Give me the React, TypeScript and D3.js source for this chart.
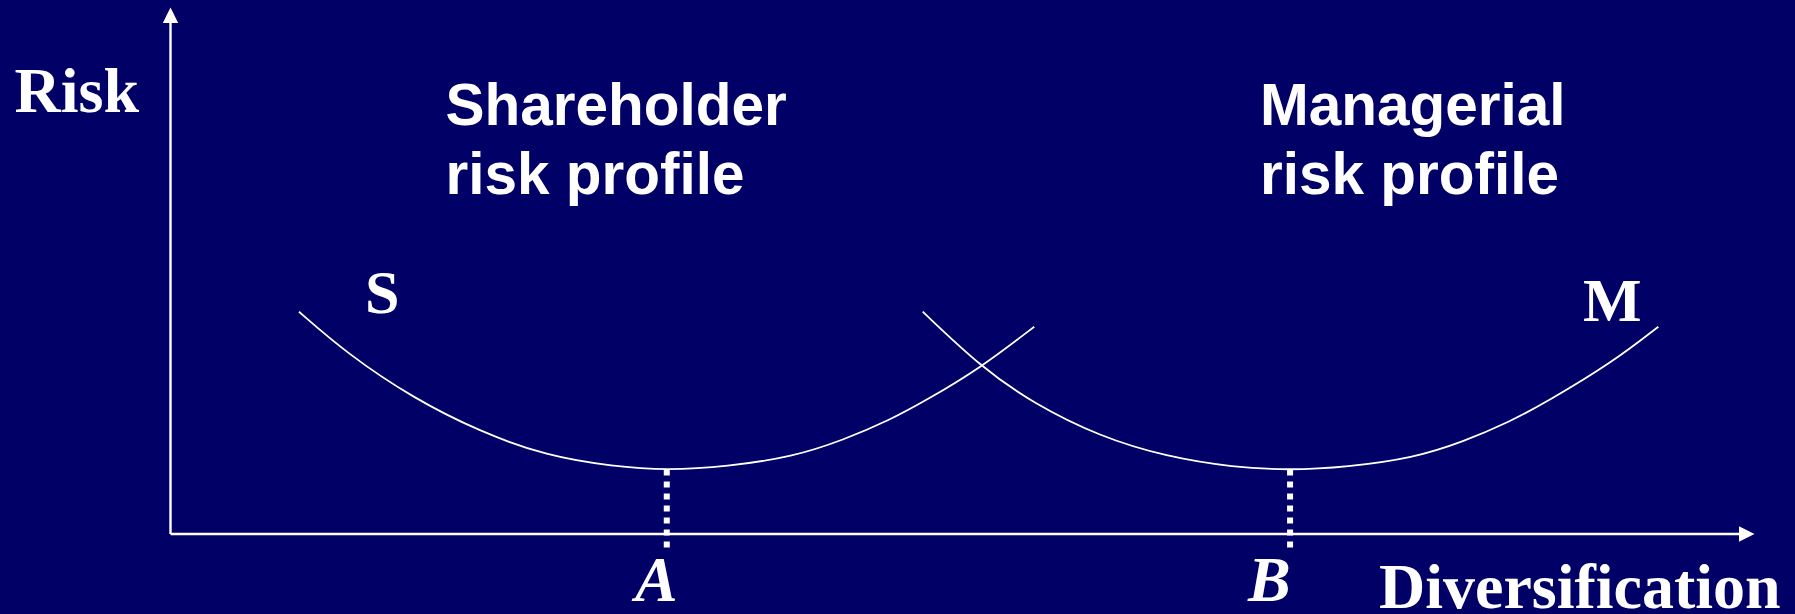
import React from "react";
import * as d3 from "d3";

// Data (units: diversification 0-100 along x axis, risk 0-100 along y axis)
const shareholderCurve: [number, number][] = [
  [8.11, 42.22],
  [11.12, 34.32],
  [15.33, 25.77],
  [19.54, 19.43],
  [23.75, 14.81],
  [27.95, 12.82],
  [31.33, 12.1],
  [35.11, 12.78],
  [39.32, 14.68],
  [42.47, 17.85],
  [45.42, 21.65],
  [47.74, 25.45],
  [51.1, 31.47],
  [54.53, 39.37],
];

const managerialCurve: [number, number][] = [
  [47.49, 42.22],
  [51.21, 31.59],
  [54.47, 24.82],
  [58.68, 18.48],
  [62.89, 14.68],
  [67.1, 12.67],
  [70.68, 12.1],
  [74.26, 12.73],
  [78.46, 14.43],
  [81.62, 17.53],
  [84.56, 21.33],
  [86.88, 25.07],
  [91.09, 32.73],
  [93.93, 39.37],
];

const optimumLabels = ["A", "B"];
const optimumX = [31.33, 70.68];
const optimumRisk = [12.1, 12.1];

const curveLabels = ["S", "M"];
const profileTitles = [
  ["Shareholder", "risk profile"],
  ["Managerial", "risk profile"],
];
const yAxisTitle = "Risk";
const xAxisTitle = "Diversification";

const W = 1795;
const H = 614;
const BG = "#000066";
const FG = "#ffffff";

export default function App() {
  const x = d3.scaleLinear().domain([0, 100]).range([170.5, 1754.5]);
  const y = d3.scaleLinear().domain([0, 100]).range([534, 7.5]);

  const line = d3
    .line<[number, number]>()
    .x((d) => x(d[0]))
    .y((d) => y(d[1]))
    .curve(d3.curveBasis);

  const x0 = x(0);
  const y0 = y(0);
  const xEnd = x(100);
  const yEnd = y(100);
  const ah = 15.5; // arrow length
  const aw = 7.7; // arrow half width

  const serif = "'Liberation Serif', 'Times New Roman', serif";
  const sans = "'Liberation Sans', Arial, sans-serif";

  const dashBottom = y(-2.8);
  const labelX = [635, 1248];

  return (
    <svg
      width={W}
      height={H}
      style={{ position: "absolute", left: 0, top: 0, display: "block" }}
    >
      <rect x={0} y={0} width={W} height={H} fill={BG} />

      {/* axes */}
      <line x1={x0} y1={y0} x2={x0} y2={yEnd + ah} stroke={FG} strokeWidth={2.4} />
      <path
        d={`M${x0},${yEnd} L${x0 - aw},${yEnd + ah} L${x0 + aw},${yEnd + ah} Z`}
        fill={FG}
      />
      <line x1={x0} y1={y0} x2={xEnd - ah} y2={y0} stroke={FG} strokeWidth={2.4} />
      <path
        d={`M${xEnd},${y0} L${xEnd - ah},${y0 - aw} L${xEnd - ah},${y0 + aw} Z`}
        fill={FG}
      />

      {/* curves */}
      <path d={line(shareholderCurve) || ""} fill="none" stroke={FG} strokeWidth={1.8} />
      <path d={line(managerialCurve) || ""} fill="none" stroke={FG} strokeWidth={1.8} />

      {/* dashed drop lines */}
      {optimumX.map((ox, i) => (
        <line
          key={"d" + i}
          x1={x(ox)}
          x2={x(ox)}
          y1={y(optimumRisk[i]) - 0.8}
          y2={dashBottom}
          stroke={FG}
          strokeWidth={6}
          strokeDasharray="6 6"
        />
      ))}

      {/* optimum labels */}
      {optimumX.map((ox, i) => (
        <text
          key={"l" + i}
          x={labelX[i]}
          y={601}
          fill={FG}
          fontFamily={serif}
          fontWeight="bold"
          fontStyle="italic"
          fontSize={64}
        >
          {optimumLabels[i]}
        </text>
      ))}

      {/* axis titles */}
      <text x={14.5} y={112} fill={FG} fontFamily={serif} fontWeight="bold" fontSize={64}>
        {yAxisTitle}
      </text>
      <text x={1379} y={608} fill={FG} fontFamily={serif} fontWeight="bold" fontSize={64}>
        {xAxisTitle}
      </text>

      {/* curve labels */}
      <text x={365} y={313} fill={FG} fontFamily={serif} fontWeight="bold" fontSize={62}>
        {curveLabels[0]}
      </text>
      <text x={1583} y={321} fill={FG} fontFamily={serif} fontWeight="bold" fontSize={62}>
        {curveLabels[1]}
      </text>

      {/* profile titles */}
      {profileTitles.map((lines, i) => (
        <text
          key={"t" + i}
          x={i === 0 ? 445.5 : 1260}
          y={124.5}
          fill={FG}
          fontFamily={sans}
          fontWeight="bold"
          fontSize={58.5}
        >
          {lines.map((t, j) => (
            <tspan key={j} x={i === 0 ? 445.5 : 1260} dy={j === 0 ? 0 : 69}>
              {t}
            </tspan>
          ))}
        </text>
      ))}
    </svg>
  );
}
